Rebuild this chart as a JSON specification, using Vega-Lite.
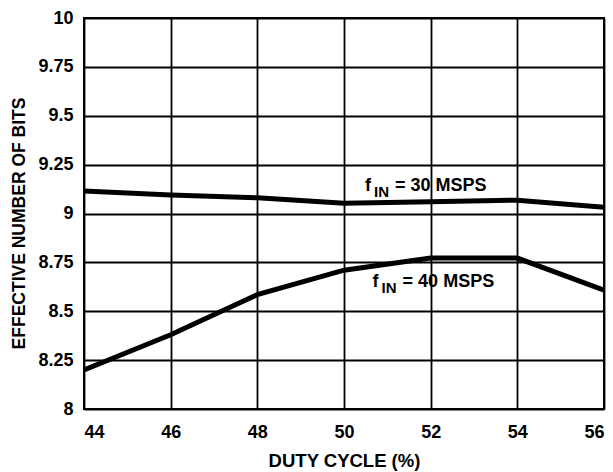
{
  "$schema": "https://vega.github.io/schema/vega-lite/v6.json",
  "width": 520,
  "height": 391,
  "autosize": {"type": "none"},
  "padding": {"left": 84, "top": 18, "right": 9, "bottom": 63},
  "background": "white",
  "config": {
    "font": "Liberation Sans",
    "view": {"stroke": "black", "strokeWidth": 2},
    "axis": {
      "labelFont": "Liberation Sans", "labelFontWeight": "bold", "labelFontSize": 18, "labelColor": "black",
      "titleFont": "Liberation Sans", "titleFontWeight": "bold", "titleFontSize": 18, "titleColor": "black",
      "grid": true, "gridColor": "black", "gridWidth": 1.8, "gridOpacity": 1,
      "domain": false, "ticks": false
    }
  },
  "datasets": {
    "series": [
      {"duty": 44, "enob": 9.115, "fin": "30"},
      {"duty": 46, "enob": 9.095, "fin": "30"},
      {"duty": 48, "enob": 9.08, "fin": "30"},
      {"duty": 50, "enob": 9.052, "fin": "30"},
      {"duty": 52, "enob": 9.06, "fin": "30"},
      {"duty": 54, "enob": 9.068, "fin": "30"},
      {"duty": 56, "enob": 9.032, "fin": "30"},
      {"duty": 44, "enob": 8.2, "fin": "40"},
      {"duty": 46, "enob": 8.38, "fin": "40"},
      {"duty": 48, "enob": 8.585, "fin": "40"},
      {"duty": 50, "enob": 8.71, "fin": "40"},
      {"duty": 52, "enob": 8.772, "fin": "40"},
      {"duty": 54, "enob": 8.772, "fin": "40"},
      {"duty": 56, "enob": 8.608, "fin": "40"}
    ],
    "labels": [
      {"duty": 50.485, "enob": 9.115, "f": "f", "sub": "IN", "rest": "= 30 MSPS"},
      {"duty": 50.66, "enob": 8.622, "f": "f", "sub": "IN", "rest": "= 40 MSPS"}
    ]
  },
  "layer": [
    {
      "data": {"name": "series"},
      "mark": {"type": "line", "color": "black", "strokeWidth": 5, "strokeJoin": "miter", "clip": true},
      "encoding": {
        "x": {"field": "duty", "type": "quantitative",
              "scale": {"domain": [44, 56], "nice": false, "zero": false},
              "axis": {"values": [44, 46, 48, 50, 52, 54, 56], "title": "DUTY CYCLE (%)", "labelPadding": 14,
                       "titleX": 260, "titleY": 51, "titleBaseline": "middle", "titleFontSize": 18.5}},
        "y": {"field": "enob", "type": "quantitative",
              "scale": {"domain": [8, 10], "nice": false, "zero": false},
              "axis": {"values": [8, 8.25, 8.5, 8.75, 9, 9.25, 9.5, 9.75, 10], "format": ".2~f",
                       "title": "EFFECTIVE NUMBER OF BITS", "labelPadding": 11, "titleFontSize": 17.5,
                       "titleX": -64.5, "titleY": 205, "titleAngle": -90, "titleAlign": "center", "titleBaseline": "middle"}},
        "detail": {"field": "fin"}
      }
    },
    {
      "data": {"name": "labels"},
      "mark": {"type": "text", "align": "left", "baseline": "alphabetic", "font": "Liberation Sans", "fontWeight": "bold", "fontSize": 18, "color": "black"},
      "encoding": {
        "x": {"field": "duty", "type": "quantitative"},
        "y": {"field": "enob", "type": "quantitative"},
        "text": {"field": "f"}
      }
    },
    {
      "data": {"name": "labels"},
      "mark": {"type": "text", "align": "left", "baseline": "alphabetic", "font": "Liberation Sans", "fontWeight": "bold", "fontSize": 15, "color": "black", "dx": 9, "dy": 6},
      "encoding": {
        "x": {"field": "duty", "type": "quantitative"},
        "y": {"field": "enob", "type": "quantitative"},
        "text": {"field": "sub"}
      }
    },
    {
      "data": {"name": "labels"},
      "mark": {"type": "text", "align": "left", "baseline": "alphabetic", "font": "Liberation Sans", "fontWeight": "bold", "fontSize": 18, "color": "black", "dx": 30},
      "encoding": {
        "x": {"field": "duty", "type": "quantitative"},
        "y": {"field": "enob", "type": "quantitative"},
        "text": {"field": "rest"}
      }
    }
  ]
}
